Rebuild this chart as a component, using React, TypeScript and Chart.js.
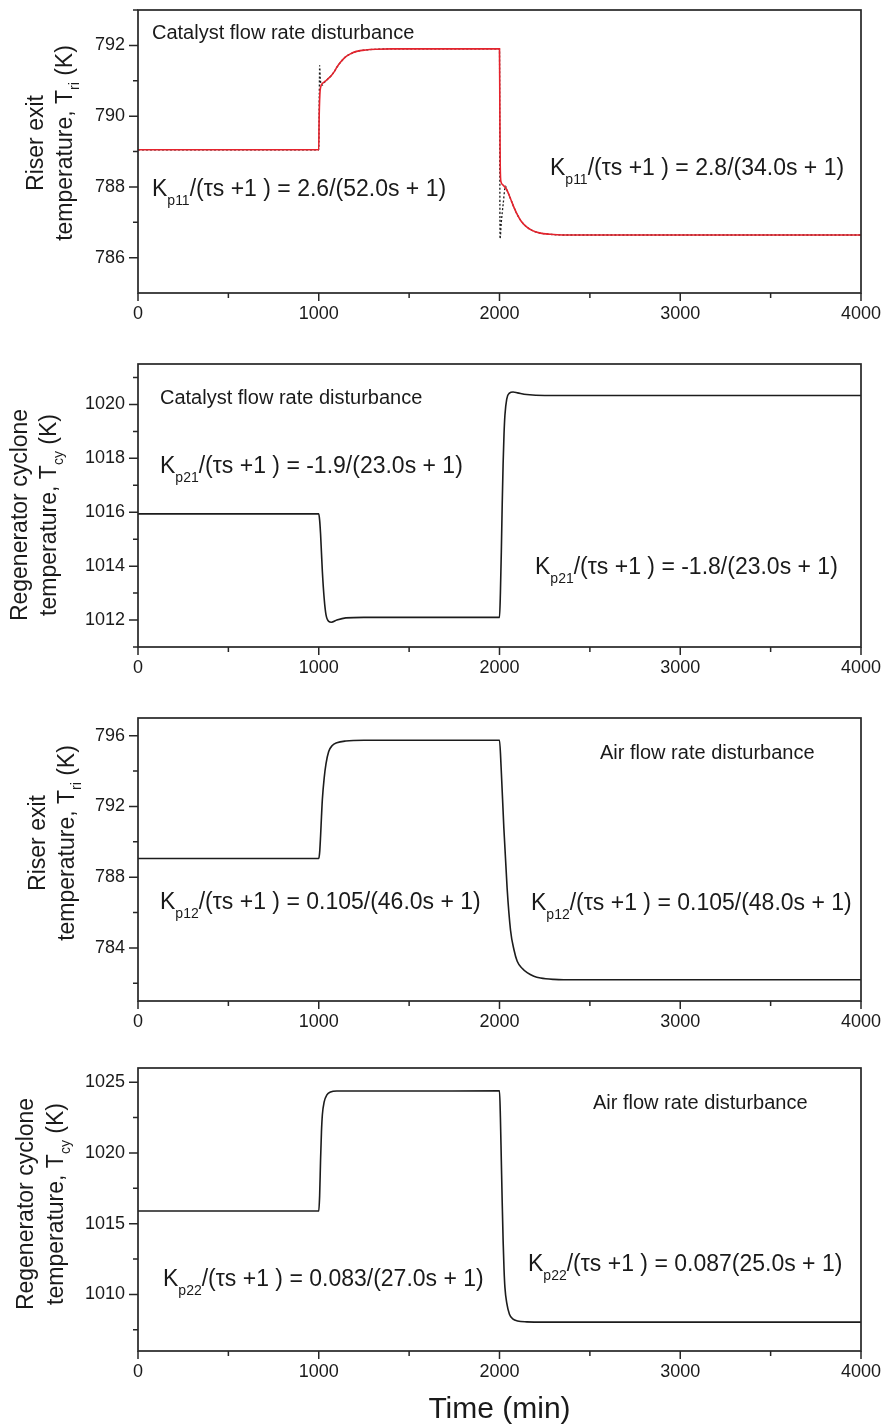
import React, { useEffect, useRef } from "react";
import { Chart, registerables } from "chart.js";
Chart.register(...registerables);

const FONT = '"Liberation Sans", Arial, Helvetica, sans-serif';
const RED = "#e5232d";
const BLACK = "#1c1c1c";
const AXIS = "#262626";

// ---- shared time axis ----
const X_TICKS = [0, 1000, 2000, 3000, 4000];
const X_MINOR = [500, 1500, 2500, 3500];

// ---- Panel 1: riser exit temperature, catalyst flow disturbance ----
const P1_TIME_MODEL = [0, 1000, 1002, 1006, 1012, 1020, 1035, 1050, 1070, 1085, 1100, 1120, 1145, 1175, 1210, 1260, 1320, 1400, 2000, 2002, 2004, 2008, 2020, 2035, 2042, 2060, 2080, 2100, 2120, 2150, 2180, 2220, 2280, 2350, 4000];
const P1_TEMP_MODEL = [789.05, 789.05, 789.9, 790.6, 790.85, 790.92, 790.98, 791.05, 791.15, 791.25, 791.38, 791.52, 791.66, 791.76, 791.83, 791.87, 791.89, 791.9, 791.9, 790.2, 788.6, 788.15, 788.05, 787.96, 787.9, 787.68, 787.42, 787.2, 787.03, 786.87, 786.77, 786.7, 786.66, 786.64, 786.64];
const P1_TIME_SIM = [0, 1000, 1003, 1005, 1008, 1012, 1020, 1035, 1050, 1070, 1085, 1100, 1120, 1145, 1175, 1210, 1260, 1320, 1400, 2000, 2003, 2010, 2020, 2033, 2042, 2060, 2080, 2100, 2120, 2150, 2180, 2220, 2280, 2350, 4000];
const P1_TEMP_SIM = [789.05, 789.05, 790.6, 791.43, 791.1, 790.92, 790.88, 790.98, 791.05, 791.15, 791.25, 791.38, 791.52, 791.66, 791.76, 791.83, 791.87, 791.89, 791.9, 791.9, 786.53, 787.0, 787.5, 788.02, 787.9, 787.68, 787.42, 787.2, 787.03, 786.87, 786.77, 786.7, 786.66, 786.64, 786.64];
const P1_Y_TICKS = [786, 788, 790, 792];
const P1_Y_MINOR = [787, 789, 791, 793];

// ---- Panel 2: regenerator cyclone temperature, catalyst flow disturbance ----
const P2_TIME = [0, 1000, 1005, 1010, 1015, 1020, 1030, 1040, 1055, 1070, 1100, 1150, 1250, 2000, 2005, 2010, 2015, 2020, 2025, 2030, 2040, 2055, 2075, 2100, 2150, 2250, 4000];
const P2_TEMP = [1015.94, 1015.94, 1015.7, 1015.2, 1014.5, 1013.8, 1012.8, 1012.2, 1011.95, 1011.92, 1012.0, 1012.08, 1012.1, 1012.1, 1013.0, 1014.5, 1016.3, 1017.8, 1018.9, 1019.6, 1020.2, 1020.42, 1020.46, 1020.43, 1020.37, 1020.33, 1020.33];
const P2_Y_TICKS = [1012, 1014, 1016, 1018, 1020];
const P2_Y_MINOR = [1011, 1013, 1015, 1017, 1019, 1021];

// ---- Panel 3: riser exit temperature, air flow disturbance ----
const P3_TIME = [0, 1000, 1005, 1010, 1015, 1020, 1030, 1040, 1055, 1075, 1100, 1150, 1250, 2000, 2009, 2024, 2042, 2061, 2080, 2098, 2125, 2153, 2190, 2227, 2300, 2355, 4000];
const P3_TEMP = [789.06, 789.06, 789.4, 790.3, 791.4, 792.4, 793.6, 794.4, 795.1, 795.45, 795.6, 795.7, 795.74, 795.74, 794.2, 790.8, 787.4, 785.0, 783.9, 783.25, 782.85, 782.6, 782.4, 782.3, 782.22, 782.2, 782.2];
const P3_Y_TICKS = [784, 788, 792, 796];
const P3_Y_MINOR = [782, 786, 790, 794];

// ---- Panel 4: regenerator cyclone temperature, air flow disturbance ----
const P4_TIME = [0, 1000, 1005, 1010, 1015, 1020, 1030, 1045, 1065, 1100, 2000, 2005, 2010, 2015, 2020, 2025, 2030, 2040, 2055, 2075, 2100, 2150, 2250, 4000];
const P4_TEMP = [1015.89, 1015.89, 1017.0, 1019.5, 1021.5, 1022.7, 1023.6, 1024.1, 1024.3, 1024.37, 1024.38, 1022.5, 1019.5, 1016.5, 1013.8, 1011.8, 1010.5, 1009.4, 1008.6, 1008.25, 1008.12, 1008.06, 1008.04, 1008.04];
const P4_Y_TICKS = [1010, 1015, 1020, 1025];
const P4_Y_MINOR = [1007.5, 1012.5, 1017.5, 1022.5];

type Part = { t: string; sub?: boolean };
type Note = { x: number; y: number; size: number; sub: number; subDy: number; parts: Part[] };

const formula = (k: string, rhs: string): Part[] => [
  { t: "K" },
  { t: k, sub: true },
  { t: "/(\u03c4s +1 ) = " + rhs },
];

const PANELS = [
  {
    canvasTop: 0, height: 350, plotTop: 10, plotBottom: 293,
    yMin: 785, yMax: 793, yTicks: P1_Y_TICKS, yMinor: P1_Y_MINOR,
    series: [
      { t: P1_TIME_MODEL, v: P1_TEMP_MODEL, color: RED, width: 1.6, dash: [] as number[] },
      { t: P1_TIME_SIM, v: P1_TEMP_SIM, color: BLACK, width: 1.3, dash: [2, 2] },
    ],
    title: { cy: 143, x1: 43, x2: 72, line1: "Riser exit", sub: "ri" },
    notes: [
      { x: 152, y: 39, size: 20, sub: 13, subDy: 9, parts: [{ t: "Catalyst flow rate disturbance" }] },
      { x: 152, y: 196, size: 23, sub: 14, subDy: 9, parts: formula("p11", "2.6/(52.0s + 1)") },
      { x: 550, y: 175, size: 23, sub: 14, subDy: 9, parts: formula("p11", "2.8/(34.0s + 1)") },
    ] as Note[],
    xTitle: false,
  },
  {
    canvasTop: 350, height: 355, plotTop: 364, plotBottom: 647,
    yMin: 1011, yMax: 1021.5, yTicks: P2_Y_TICKS, yMinor: P2_Y_MINOR,
    series: [{ t: P2_TIME, v: P2_TEMP, color: BLACK, width: 1.6, dash: [] as number[] }],
    title: { cy: 515, x1: 27, x2: 56, line1: "Regenerator cyclone", sub: "cy" },
    notes: [
      { x: 160, y: 404, size: 20, sub: 13, subDy: 9, parts: [{ t: "Catalyst flow rate disturbance" }] },
      { x: 160, y: 473, size: 23, sub: 14, subDy: 9, parts: formula("p21", "-1.9/(23.0s + 1)") },
      { x: 535, y: 574, size: 23, sub: 14, subDy: 9, parts: formula("p21", "-1.8/(23.0s + 1)") },
    ] as Note[],
    xTitle: false,
  },
  {
    canvasTop: 705, height: 353, plotTop: 718, plotBottom: 1001,
    yMin: 781, yMax: 797, yTicks: P3_Y_TICKS, yMinor: P3_Y_MINOR,
    series: [{ t: P3_TIME, v: P3_TEMP, color: BLACK, width: 1.6, dash: [] as number[] }],
    title: { cy: 843, x1: 45, x2: 74, line1: "Riser exit", sub: "ri" },
    notes: [
      { x: 600, y: 759, size: 20, sub: 13, subDy: 9, parts: [{ t: "Air flow rate disturbance" }] },
      { x: 160, y: 909, size: 23, sub: 14, subDy: 9, parts: formula("p12", "0.105/(46.0s + 1)") },
      { x: 531, y: 910, size: 23, sub: 14, subDy: 9, parts: formula("p12", "0.105/(48.0s + 1)") },
    ] as Note[],
    xTitle: false,
  },
  {
    canvasTop: 1058, height: 370, plotTop: 1068, plotBottom: 1351,
    yMin: 1006, yMax: 1026, yTicks: P4_Y_TICKS, yMinor: P4_Y_MINOR,
    series: [{ t: P4_TIME, v: P4_TEMP, color: BLACK, width: 1.6, dash: [] as number[] }],
    title: { cy: 1204, x1: 33, x2: 63, line1: "Regenerator cyclone", sub: "cy" },
    notes: [
      { x: 593, y: 1109, size: 20, sub: 13, subDy: 9, parts: [{ t: "Air flow rate disturbance" }] },
      { x: 163, y: 1286, size: 23, sub: 14, subDy: 9, parts: formula("p22", "0.083/(27.0s + 1)") },
      { x: 528, y: 1271, size: 23, sub: 14, subDy: 9, parts: formula("p22", "0.087(25.0s + 1)") },
    ] as Note[],
    xTitle: true,
  },
];

type Panel = (typeof PANELS)[number];

function measureParts(ctx: CanvasRenderingContext2D, parts: Part[], size: number, sub: number) {
  let w = 0;
  for (const p of parts) {
    ctx.font = `${p.sub ? sub : size}px ${FONT}`;
    w += ctx.measureText(p.t).width;
  }
  return w;
}

function drawParts(ctx: CanvasRenderingContext2D, parts: Part[], x: number, y: number, size: number, sub: number, subDy: number) {
  let cx = x;
  for (const p of parts) {
    ctx.font = `${p.sub ? sub : size}px ${FONT}`;
    ctx.fillText(p.t, cx, y + (p.sub ? subDy : 0));
    cx += ctx.measureText(p.t).width;
  }
}

function decor(p: Panel) {
  return {
    id: "decor",
    afterDraw(chart: any) {
      const ctx: CanvasRenderingContext2D = chart.ctx;
      const { left, right, top, bottom } = chart.chartArea;
      const xs = chart.scales.x;
      const ys = chart.scales.y;
      const off = p.canvasTop;
      ctx.save();
      ctx.strokeStyle = AXIS;
      ctx.lineWidth = 1.7;
      ctx.strokeRect(left, top, right - left, bottom - top);
      ctx.lineWidth = 1.5;
      ctx.beginPath();
      for (const v of p.yTicks) {
        const py = ys.getPixelForValue(v);
        ctx.moveTo(left - 9, py);
        ctx.lineTo(left, py);
      }
      for (const v of p.yMinor) {
        const py = ys.getPixelForValue(v);
        ctx.moveTo(left - 5, py);
        ctx.lineTo(left, py);
      }
      for (const v of X_TICKS) {
        const px = xs.getPixelForValue(v);
        ctx.moveTo(px, bottom);
        ctx.lineTo(px, bottom + 8);
      }
      for (const v of X_MINOR) {
        const px = xs.getPixelForValue(v);
        ctx.moveTo(px, bottom);
        ctx.lineTo(px, bottom + 5);
      }
      ctx.stroke();

      ctx.fillStyle = "#1a1a1a";
      ctx.textAlign = "left";
      ctx.textBaseline = "alphabetic";

      // y-axis title (two lines, rotated)
      const tsize = 23;
      const tsub = 14;
      const line1: Part[] = [{ t: p.title.line1 }];
      const line2: Part[] = [{ t: "temperature, T" }, { t: p.title.sub, sub: true }, { t: " (K)" }];
      const lines: [Part[], number][] = [[line1, p.title.x1], [line2, p.title.x2]];
      for (const [parts, bx] of lines) {
        const w = measureParts(ctx, parts, tsize, tsub);
        ctx.save();
        ctx.translate(bx, p.title.cy - off);
        ctx.rotate(-Math.PI / 2);
        drawParts(ctx, parts, -w / 2, 0, tsize, tsub, 7);
        ctx.restore();
      }

      for (const n of p.notes) {
        drawParts(ctx, n.parts, n.x, n.y - off, n.size, n.sub, n.subDy);
      }

      if (p.xTitle) {
        ctx.font = `30px ${FONT}`;
        ctx.textAlign = "center";
        ctx.fillText("Time (min)", (left + right) / 2, 1418 - off);
      }
      ctx.restore();
    },
  };
}

function makeChart(canvas: HTMLCanvasElement, p: Panel) {
  return new Chart(canvas, {
    type: "line",
    data: {
      datasets: p.series.map((s) => ({
        data: s.t.map((t, k) => ({ x: t, y: s.v[k] })),
        borderColor: s.color,
        borderWidth: s.width,
        borderDash: s.dash,
        pointRadius: 0,
        fill: false,
        cubicInterpolationMode: "monotone" as const,
      })),
    },
    options: {
      responsive: false,
      animation: false,
      devicePixelRatio: 1,
      events: [],
      layout: { padding: { left: 0, right: 22, top: p.plotTop - p.canvasTop, bottom: 0 } },
      plugins: { legend: { display: false }, tooltip: { enabled: false } },
      scales: {
        x: {
          type: "linear",
          min: 0,
          max: 4000,
          grid: { display: false },
          border: { display: false },
          ticks: {
            font: { family: FONT, size: 18 },
            color: "#1a1a1a",
            padding: 2,
            autoSkip: false,
            maxRotation: 0,
            callback: (v: any) => String(v),
          },
          afterBuildTicks: (s: any) => {
            s.ticks = X_TICKS.map((v) => ({ value: v }));
          },
          afterFit: (s: any) => {
            s.height = p.height - (p.plotBottom - p.canvasTop);
            s.paddingLeft = 0;
            s.paddingRight = 0;
          },
        },
        y: {
          type: "linear",
          min: p.yMin,
          max: p.yMax,
          grid: { display: false },
          border: { display: false },
          ticks: {
            font: { family: FONT, size: 18 },
            color: "#1a1a1a",
            padding: 5,
            autoSkip: false,
            callback: (v: any) => String(v),
          },
          afterBuildTicks: (s: any) => {
            s.ticks = p.yTicks.map((v) => ({ value: v }));
          },
          afterFit: (s: any) => {
            s.width = 138;
            s.paddingTop = 0;
            s.paddingBottom = 0;
          },
        },
      },
    },
    plugins: [decor(p)],
  } as any);
}

export default function App() {
  const refs = useRef<(HTMLCanvasElement | null)[]>([]);
  useEffect(() => {
    const charts = PANELS.map((p, i) => makeChart(refs.current[i] as HTMLCanvasElement, p));
    return () => charts.forEach((c) => c.destroy());
  }, []);
  return (
    <div style={{ position: "absolute", left: 0, top: 0, width: 883, height: 1428, background: "#fff", overflow: "hidden" }}>
      {PANELS.map((p, i) => (
        <canvas
          key={i}
          ref={(el) => {
            refs.current[i] = el;
          }}
          width={883}
          height={p.height}
          style={{ position: "absolute", left: 0, top: p.canvasTop, width: 883, height: p.height, display: "block" }}
        />
      ))}
    </div>
  );
}
